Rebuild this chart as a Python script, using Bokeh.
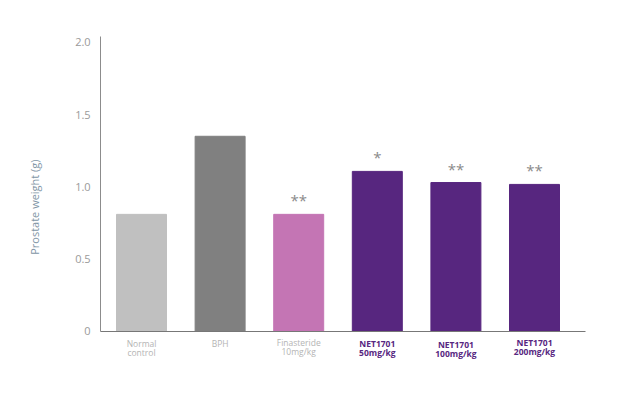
import math
from bokeh.plotting import figure
from bokeh.models import ColumnDataSource, Range1d, FixedTicker
from bokeh.core.properties import value
from bokeh.embed import file_html
from bokeh.resources import INLINE

# data
groups = ["Normal\ncontrol", "BPH", "Finasteride\n10mg/kg", "NET1701\n50mg/kg", "NET1701\n100mg/kg", "NET1701\n200mg/kg"]
weights = [0.81, 1.35, 0.81, 1.107, 1.03, 1.017]
marks = ["", "", "**", "*", "**", "**"]
bar_colors = ["#c0c0c0", "#808080", "#c475b4", "#57267f", "#57267f", "#57267f"]
label_colors = ["#b4b4b4", "#b4b4b4", "#b4b4b4", "#57267f", "#57267f", "#57267f"]
label_styles = ["normal", "normal", "normal", "bold", "bold", "bold"]
label_offsets = [7, 7, 5.5, 7, 8, 6]
y_ticks = [0, 0.5, 1.0, 1.5, 2.0]
y_tick_labels = ["0", "0.5", "1.0", "1.5", "2.0"]
y_title = "Prostate weight (g)"

idx = list(range(len(groups)))
src = ColumnDataSource(dict(x=idx, top=weights, color=bar_colors, mark=marks,
                            y0=[0] * len(idx), label=groups, lcolor=label_colors,
                            lstyle=label_styles, loff=label_offsets))

x_lo, x_hi = -0.52, 5.65
y_lo, y_hi = 0.0, 2.04
y_title_pos = 0.86

p = figure(width=613, height=382, output_backend="svg", toolbar_location=None,
           x_range=Range1d(-1.794, 6.005), y_range=Range1d(-0.353, 2.289),
           min_border=0, min_border_left=0, min_border_right=0,
           min_border_top=0, min_border_bottom=0)
p.outline_line_color = None
p.grid.grid_line_color = None

p.vbar(x="x", top="top", width=0.636, bottom=0, color="color", source=src)

p.text(x="x", y="top", text="mark", source=src, text_align="center", text_baseline="bottom",
       y_offset=-4, text_font=value("Open Sans"), text_font_size="15px", text_color="#8a8a8a")

# x category labels
p.text(x="x", y="y0", text="label", source=src, text_align="center", text_baseline="top",
       y_offset="loff", text_font=value("Open Sans"), text_font_size="8.5px",
       text_font_style="lstyle", text_color="lcolor", text_line_height=0.8)

# y title
p.text(x=[x_lo], y=[y_title_pos], text=[y_title], angle=math.pi / 2,
       x_offset=-66, text_align="center", text_baseline="middle",
       text_font=value("Open Sans"), text_font_size="11px", text_color="#8296a6")

# y axis
ya = p.yaxis[0]
ya.fixed_location = x_lo
ya.bounds = (y_lo, y_hi)
ya.ticker = FixedTicker(ticks=y_ticks)
ya.major_label_overrides = {t: l for t, l in zip(y_ticks, y_tick_labels)}
ya.major_tick_line_color = None
ya.minor_tick_line_color = None
ya.axis_line_color = "#8c8c8c"
ya.major_label_text_color = "#9a9a9a"
ya.major_label_text_font = "Open Sans"
ya.major_label_text_font_size = "11px"
ya.major_label_standoff = 4

# x axis
xa = p.xaxis[0]
xa.fixed_location = 0
xa.bounds = (x_lo, x_hi)
xa.ticker = FixedTicker(ticks=[])
xa.major_tick_line_color = None
xa.minor_tick_line_color = None
xa.axis_line_color = "#777777"
xa.major_label_text_font_size = "0px"

open("out.html", "w").write(file_html(p, INLINE))
